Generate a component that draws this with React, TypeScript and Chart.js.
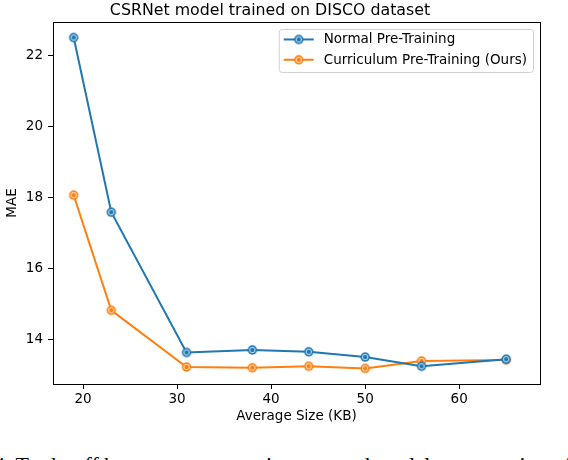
import React, { useEffect, useRef } from "react";
import { Chart, registerables } from "chart.js";

Chart.register(...registerables);

const chartTitle = "CSRNet model trained on DISCO dataset";
const xLabel = "Average Size (KB)";
const yLabel = "MAE";
const sizes = [19, 23, 31, 38, 44, 50, 56, 65];
const normalMAE = [22.52, 17.59, 13.63, 13.7, 13.65, 13.5, 13.24, 13.44];
const curriculumMAE = [18.07, 14.82, 13.22, 13.2, 13.24, 13.18, 13.39, 13.42];
const seriesNames = ["Normal Pre-Training", "Curriculum Pre-Training (Ours)"];
const seriesColors = ["#1f77b4", "#ff7f0e"];
const xTicks = [20, 30, 40, 50, 60];
const yTicks = [14, 16, 18, 20, 22];
const caption = "4.  Trade-off between compression rate and model accuracy in training with";

const FONT = "'DejaVu Sans', sans-serif";
const FS = 13.5;

function makeMarker(color: string): HTMLCanvasElement {
  const c = document.createElement("canvas");
  const s = 12;
  c.width = s;
  c.height = s;
  const ctx = c.getContext("2d")!;
  ctx.fillStyle = color;
  ctx.beginPath();
  ctx.arc(s / 2, s / 2, 4.7, 0, Math.PI * 2);
  ctx.fill();
  ctx.strokeStyle = "rgba(255,255,255,0.85)";
  ctx.lineWidth = 0.9;
  ctx.beginPath();
  ctx.arc(s / 2, s / 2, 2.7, 0, Math.PI * 2);
  ctx.stroke();
  return c;
}

const framePlugin = {
  id: "frame",
  afterDraw(chart: any) {
    const { ctx, chartArea } = chart;
    ctx.save();
    ctx.strokeStyle = "#000";
    ctx.lineWidth = 1;
    ctx.strokeRect(
      Math.round(chartArea.left) + 0.5,
      Math.round(chartArea.top) + 0.5,
      Math.round(chartArea.right - chartArea.left),
      Math.round(chartArea.bottom - chartArea.top)
    );
    // legend
    ctx.font = `${FS}px ${FONT}`;
    const ds = chart.data.datasets;
    let maxW = 0;
    ds.forEach((d: any) => {
      maxW = Math.max(maxW, ctx.measureText(d.label).width);
    });
    const boxW = 45 + maxW + 6;
    const boxH = 43;
    const bx = chartArea.right - 7 - boxW;
    const by = chartArea.top + 7;
    ctx.beginPath();
    if ((ctx as any).roundRect) (ctx as any).roundRect(bx + 0.5, by + 0.5, boxW, boxH, 3);
    else ctx.rect(bx + 0.5, by + 0.5, boxW, boxH);
    ctx.fillStyle = "rgba(255,255,255,0.8)";
    ctx.fill();
    ctx.strokeStyle = "#d0d0d0";
    ctx.lineWidth = 1;
    ctx.stroke();
    ds.forEach((d: any, i: number) => {
      const y = by + 10.5 + i * 20.3;
      ctx.strokeStyle = d.borderColor;
      ctx.lineWidth = 2;
      ctx.beginPath();
      ctx.moveTo(bx + 5, y);
      ctx.lineTo(bx + 35, y);
      ctx.stroke();
      const m = d.pointStyle as HTMLCanvasElement;
      ctx.drawImage(m, bx + 20 - m.width / 2, y - m.height / 2);
      ctx.fillStyle = "#000";
      ctx.textBaseline = "middle";
      ctx.textAlign = "left";
      ctx.fillText(d.label, bx + 45, y + 0.5);
    });
    ctx.restore();
  },
};

export default function App() {
  const ref = useRef<HTMLCanvasElement>(null);
  useEffect(() => {
    if (!ref.current) return;
    Chart.defaults.color = "#000";
    Chart.defaults.font.family = FONT;
    const series = [normalMAE, curriculumMAE];
    const chart = new Chart(ref.current, {
      type: "line",
      data: {
        datasets: series.map((vals, i) => ({
          label: seriesNames[i],
          data: sizes.map((x, j) => ({ x, y: vals[j] })),
          borderColor: seriesColors[i],
          backgroundColor: seriesColors[i],
          borderWidth: 2,
          pointStyle: makeMarker(seriesColors[i]) as any,
          pointRadius: 4.7,
          tension: 0,
        })),
      },
      options: {
        animation: false,
        responsive: false,
        maintainAspectRatio: false,
        layout: { padding: { left: 0, right: 28, top: 0, bottom: 0 } },
        plugins: {
          legend: { display: false },
          tooltip: { enabled: false },
          title: {
            display: true,
            text: chartTitle,
            color: "#000",
            font: { size: 15.8, weight: "normal", family: FONT },
            padding: { top: 1, bottom: 2 },
          },
        },
        scales: {
          x: {
            type: "linear",
            min: 16.8,
            max: 68.6,
            afterBuildTicks: (s: any) => {
              s.ticks = xTicks.map((v) => ({ value: v }));
            },
            afterFit: (s: any) => {
              s.height = 46;
            },
            grid: { display: true, drawOnChartArea: false, drawTicks: true, tickLength: 5, color: "#000" },
            border: { display: false },
            ticks: { font: { size: FS, family: FONT }, color: "#000", padding: 2, maxRotation: 0 },
            title: {
              display: true,
              text: xLabel,
              color: "#000",
              font: { size: FS, family: FONT },
              padding: { top: 0, bottom: 5 },
            },
          },
          y: {
            type: "linear",
            min: 12.74,
            max: 22.96,
            afterBuildTicks: (s: any) => {
              s.ticks = yTicks.map((v) => ({ value: v }));
            },
            afterFit: (s: any) => {
              s.width = 53;
            },
            grid: { display: true, drawOnChartArea: false, drawTicks: true, tickLength: 5, color: "#000" },
            border: { display: false },
            ticks: { font: { size: FS, family: FONT }, color: "#000", padding: 5 },
            title: {
              display: true,
              text: yLabel,
              color: "#000",
              font: { size: FS, family: FONT },
              padding: { top: 4, bottom: 0 },
            },
          },
        },
      },
      plugins: [framePlugin],
    });
    return () => chart.destroy();
  }, []);

  return (
    <div style={{ position: "fixed", left: 0, top: 0, width: 568, height: 460, overflow: "hidden", background: "#fff" }}>
      <canvas ref={ref} width={568} height={430} style={{ position: "absolute", left: 0, top: 0, width: 568, height: 430 }} />
      <div
        style={{
          position: "absolute",
          left: -6,
          top: 452.5,
          whiteSpace: "nowrap",
          fontFamily: "'Liberation Serif', serif",
          fontSize: 22,
          lineHeight: "24px",
          color: "#000",
        }}
      >
        {caption}
      </div>
    </div>
  );
}
